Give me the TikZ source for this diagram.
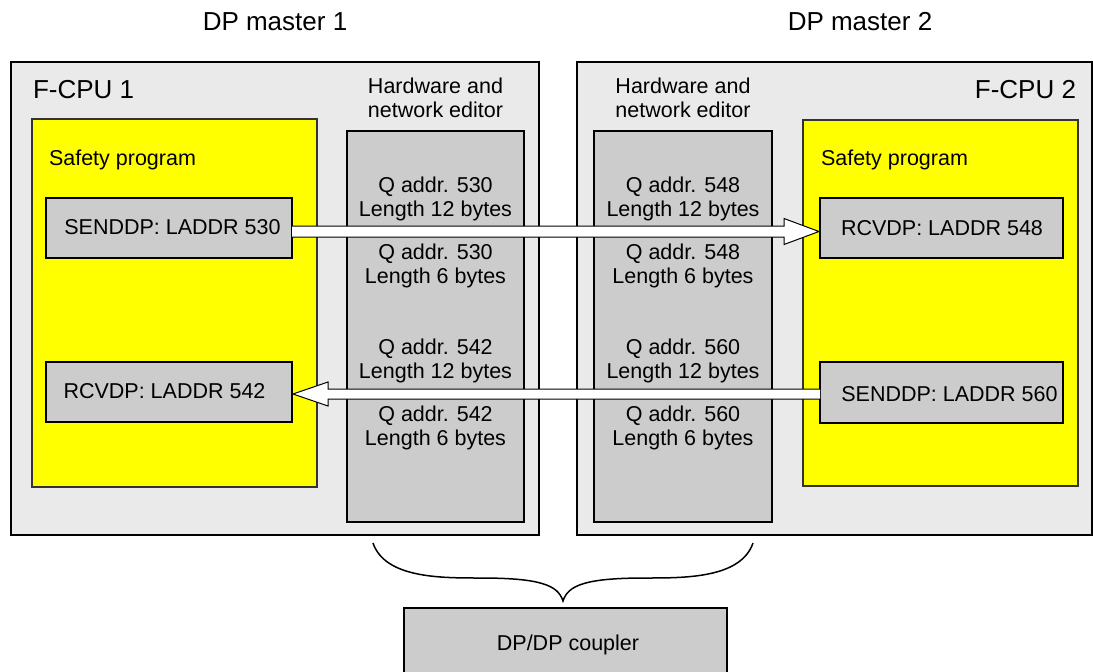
\documentclass[tikz,border=0pt]{standalone}
\usepackage{fontspec}
\setmainfont{Liberation Sans}
\usetikzlibrary{calc}
\definecolor{outerfill}{HTML}{EAEAEA}
\definecolor{boxgray}{HTML}{CCCCCC}
\definecolor{yel}{HTML}{FFFF00}
\begin{document}
\begin{tikzpicture}[x=1pt,y=-1pt,
  every node/.style={inner sep=0pt, outer sep=0pt},
  txt/.style={font=\fontsize{21.5}{24}\selectfont, align=center},
  big/.style={font=\fontsize{26}{30}\selectfont},
  panel/.style={rectangle, draw=black, line width=1.3pt, fill=outerfill},
  yelbox/.style={rectangle, draw=black!80, line width=1.3pt, fill=yel},
  graybox/.style={rectangle, draw=black, line width=1.3pt, fill=boxgray},
  arr/.style={draw=black, line width=1pt, fill=white, line join=miter},
  brace/.style={draw=black, line width=1.5pt}]
\useasboundingbox (0,0) rectangle (1093,672);
\clip (0,0) rectangle (1093,672);

% outer panels
\node[panel, minimum width=528pt, minimum height=473pt] (cpu1) at (275,298.5) {};
\node[panel, minimum width=515pt, minimum height=473pt] (cpu2) at (834.5,298.5) {};

% safety program areas
\node[yelbox, minimum width=285pt, minimum height=368pt] (sp1) at (174.5,303) {};
\node[yelbox, minimum width=275pt, minimum height=366pt] (sp2) at (940.5,303) {};

% hardware columns
\node[graybox, minimum width=177pt, minimum height=391pt] (col1) at (435.5,326.5) {};
\node[graybox, minimum width=178pt, minimum height=391pt] (col2) at (683,326.5) {};

% function blocks
\node[graybox, minimum width=246pt, minimum height=60pt] (s530) at (169,228) {};
\node[graybox, minimum width=246pt, minimum height=60pt] (r542) at (169,392) {};
\node[graybox, minimum width=243pt, minimum height=60pt] (r548) at (941.5,228) {};
\node[graybox, minimum width=243pt, minimum height=61pt] (s560) at (941.5,392.5) {};

% coupler
\node[graybox, minimum width=323pt, minimum height=100pt] (coupler) at (565.5,658) {};

% texts
\node[big, anchor=base] (m1) at (275,30) {DP master 1};
\node[big, anchor=base] (m2) at (860,30) {DP master 2};
\node[big, anchor=base west] (f1) at (33,98) {F-CPU 1};
\node[big, anchor=base east] (f2) at (1076,98) {F-CPU 2};
\node[txt, anchor=base west] (sl1) at (49,165) {Safety program};
\node[txt, anchor=base west] (sl2) at (821,165) {Safety program};
\node[txt, anchor=base] (h1a) at (435.5,93) {Hardware and};
\node[txt, anchor=base] (h1b) at (435.5,117) {network editor};
\node[txt, anchor=base] (h2a) at (683,93) {Hardware and};
\node[txt, anchor=base] (h2b) at (683,117) {network editor};

\node[txt, anchor=base] (c1a) at (435.5,192) {Q addr. 530};
\node[txt, anchor=base] (c1b) at (435.5,216) {Length 12 bytes};
\node[txt, anchor=base] (c1c) at (435.5,259) {Q addr. 530};
\node[txt, anchor=base] (c1d) at (435.5,283) {Length 6 bytes};
\node[txt, anchor=base] (c1e) at (435.5,354) {Q addr. 542};
\node[txt, anchor=base] (c1f) at (435.5,378) {Length 12 bytes};
\node[txt, anchor=base] (c1g) at (435.5,421) {Q addr. 542};
\node[txt, anchor=base] (c1h) at (435.5,445) {Length 6 bytes};

\node[txt, anchor=base] (c2a) at (683,192) {Q addr. 548};
\node[txt, anchor=base] (c2b) at (683,216) {Length 12 bytes};
\node[txt, anchor=base] (c2c) at (683,259) {Q addr. 548};
\node[txt, anchor=base] (c2d) at (683,283) {Length 6 bytes};
\node[txt, anchor=base] (c2e) at (683,354) {Q addr. 560};
\node[txt, anchor=base] (c2f) at (683,378) {Length 12 bytes};
\node[txt, anchor=base] (c2g) at (683,421) {Q addr. 560};
\node[txt, anchor=base] (c2h) at (683,445) {Length 6 bytes};

\node[txt, anchor=base] (t530) at (172.5,234) {SENDDP: LADDR 530};
\node[txt, anchor=base] (t542) at (164.5,398) {RCVDP: LADDR 542};
\node[txt, anchor=base] (t548) at (942,235) {RCVDP: LADDR 548};
\node[txt, anchor=base] (t560) at (949.5,401) {SENDDP: LADDR 560};
\node[txt, anchor=base] (tcpl) at (568,650) {DP/DP coupler};

% arrows
\coordinate (a1s) at ($(s530.east)+(0,3.5)$);
\coordinate (a1e) at ($(r548.west)+(-1,3.5)$);
\draw[arr] ($(a1s)+(0,-5.5)$) -- ($(a1e)+(-35,-5.5)$) -- ($(a1e)+(-35,-13)$) -- (a1e)
  -- ($(a1e)+(-35,13)$) -- ($(a1e)+(-35,5.5)$) -- ($(a1s)+(0,5.5)$);

\coordinate (a2s) at ($(s560.west)+(0,1.5)$);
\coordinate (a2e) at ($(r542.east)+(1,2)$);
\draw[arr] ($(a2s)+(0,-5)$) -- ($(a2e)+(35,-5)$) -- ($(a2e)+(35,-12)$) -- (a2e)
  -- ($(a2e)+(35,12)$) -- ($(a2e)+(35,5)$) -- ($(a2s)+(0,5)$);

% brace
\coordinate (bl) at (373,543);
\coordinate (bt) at (563,601);
\coordinate (br) at (753,543);
\draw[brace] (bl) .. controls (385,578) and (440,578) .. (480,578)
  .. controls (540,578) and (558,585) .. (bt)
  .. controls (568,585) and (586,578) .. (646,578)
  .. controls (686,578) and (741,578) .. (br);
\end{tikzpicture}
\end{document}
